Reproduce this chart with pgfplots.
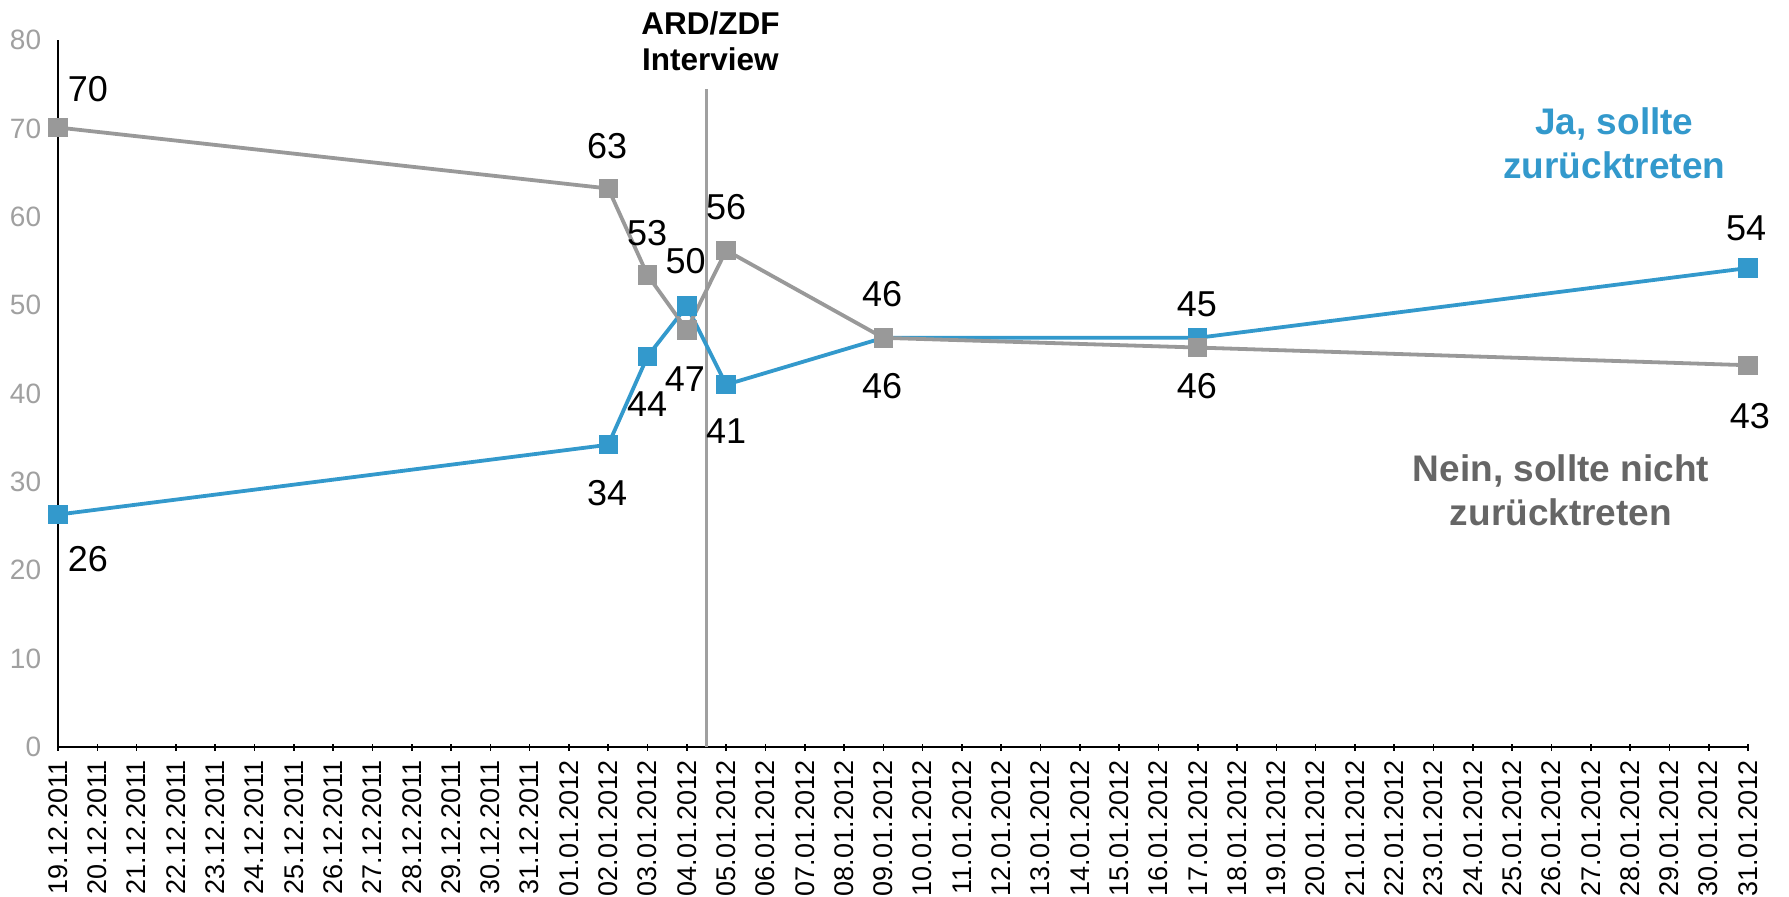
\documentclass[border=0pt]{standalone}
\usepackage{pgfplots}
\pgfplotsset{compat=1.18}
\usepackage{fontspec}
\setmainfont{Liberation Sans}
\definecolor{jablue}{RGB}{51,153,204}
\definecolor{neingray}{RGB}{153,153,153}
\definecolor{ticklab}{RGB}{160,160,160}
\definecolor{neintext}{RGB}{102,102,102}
\definecolor{vline}{RGB}{160,160,160}
\begin{document}
\begin{tikzpicture}
\useasboundingbox (-29pt,-74.5pt) rectangle (865.5pt,373.5pt);
\begin{axis}[
  scale only axis,
  width=845pt, height=353.5pt,
  xmin=0, xmax=43, ymin=0, ymax=80,
  axis x line=bottom, axis y line=left,
  axis line style={black, line width=0.8pt, -},
  xtick={0,...,43},
  xticklabels={19.12.2011,20.12.2011,21.12.2011,22.12.2011,23.12.2011,24.12.2011,25.12.2011,26.12.2011,27.12.2011,28.12.2011,29.12.2011,30.12.2011,31.12.2011,01.01.2012,02.01.2012,03.01.2012,04.01.2012,05.01.2012,06.01.2012,07.01.2012,08.01.2012,09.01.2012,10.01.2012,11.01.2012,12.01.2012,13.01.2012,14.01.2012,15.01.2012,16.01.2012,17.01.2012,18.01.2012,19.01.2012,20.01.2012,21.01.2012,22.01.2012,23.01.2012,24.01.2012,25.01.2012,26.01.2012,27.01.2012,28.01.2012,29.01.2012,30.01.2012,31.01.2012},
  xticklabel style={rotate=90, anchor=east, inner sep=0pt, font=\fontsize{13.5}{16}\selectfont},
  xticklabel shift=5pt,
  x tick style={black, line width=0.8pt},
  major tick length=3.5pt,
  ytick={0,10,...,80},
  y tick style={draw=none},
  yticklabel style={inner sep=0pt, text=ticklab, font=\fontsize{14}{16}\selectfont},
  yticklabel shift=6.5pt,
  /pgf/number format/assume math mode=true,
  clip=false,
]
\draw[vline, line width=1.3pt] (axis cs:16.5,0) -- (axis cs:16.5,74.5);
\addplot[jablue, line width=1.9pt, mark=square*, mark size=3.9pt, mark options={solid, fill=jablue, draw=jablue}]
  coordinates {(0,26.3) (14,34.2) (15,44.2) (16,49.9) (17,41.0) (21,46.3) (29,46.3) (43,54.2)};
\addplot[neingray, line width=1.9pt, mark=square*, mark size=3.9pt, mark options={solid, fill=neingray, draw=neingray}]
  coordinates {(0,70.1) (14,63.2) (15,53.4) (16,47.2) (17,56.2) (21,46.3) (29,45.2) (43,43.2)};
\begin{scope}[every node/.style={font=\fontsize{18}{21}\selectfont, inner sep=0pt}]
\node at (axis cs:0.76,74.4) {70};
\node at (axis cs:0.76,21.3) {26};
\node at (axis cs:13.97,68.0) {63};
\node at (axis cs:13.97,28.7) {34};
\node at (axis cs:14.99,58.1) {53};
\node at (axis cs:14.99,38.8) {44};
\node at (axis cs:15.97,55.0) {50};
\node at (axis cs:15.95,41.6) {47};
\node at (axis cs:17.0,61.1) {56};
\node at (axis cs:17.0,35.7) {41};
\node at (axis cs:20.97,51.2) {46};
\node at (axis cs:20.97,40.8) {46};
\node at (axis cs:28.98,50.1) {45};
\node at (axis cs:28.98,40.8) {46};
\node at (axis cs:42.95,58.7) {54};
\node at (axis cs:43.05,37.4) {43};
\end{scope}
\node[align=center, font=\fontsize{15.75}{18}\selectfont\bfseries, inner sep=0pt] at (axis cs:16.6,79.9) {ARD/ZDF\\Interview};
\node[align=center, text=jablue, font=\fontsize{18.5}{22}\selectfont\bfseries, inner sep=0pt] at (axis cs:39.6,68.3) {Ja, sollte\\zurücktreten};
\node[align=center, text=neintext, font=\fontsize{18.5}{22}\selectfont\bfseries, inner sep=0pt] at (axis cs:38.24,29.0) {Nein, sollte nicht\\zurücktreten};
\end{axis}
\end{tikzpicture}
\end{document}
